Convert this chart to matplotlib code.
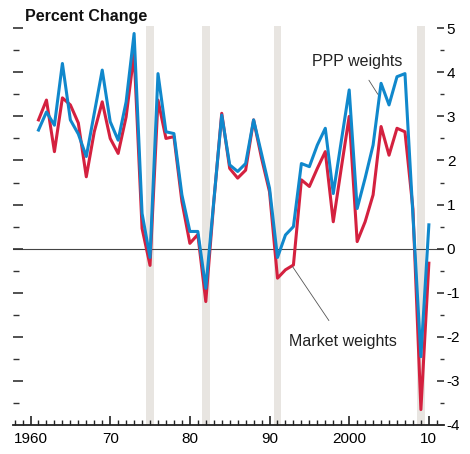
import numpy as np
import matplotlib
matplotlib.use("Agg")
import matplotlib.pyplot as plt

plt.rcParams['font.family'] = ['Liberation Sans', 'DejaVu Sans']

years = list(range(1961, 2011))

# world growth, PPP weights (blue)
ppp = [2.69, 3.10, 2.80, 4.20, 2.92, 2.60, 2.09, 3.07, 4.05, 2.88,
       2.46, 3.33, 4.88, 0.80, -0.20, 3.97, 2.65, 2.61, 1.22, 0.39,
       0.39, -0.90, 1.07, 3.03, 1.90, 1.75, 1.93, 2.92, 2.15, 1.37,
       -0.20, 0.31, 0.50, 1.93, 1.86, 2.35, 2.73, 1.25, 2.43, 3.60,
       0.91, 1.60, 2.35, 3.75, 3.26, 3.90, 3.97, 0.75, -2.45, 0.54]

# world growth, market weights (red)
market = [2.92, 3.37, 2.20, 3.42, 3.26, 2.85, 1.63, 2.65, 3.33, 2.50,
          2.16, 2.99, 4.43, 0.46, -0.38, 3.37, 2.50, 2.54, 1.07, 0.12,
          0.32, -1.20, 1.05, 3.07, 1.82, 1.60, 1.78, 2.92, 2.05, 1.29,
          -0.67, -0.48, -0.37, 1.56, 1.41, 1.82, 2.20, 0.61, 1.82, 3.00,
          0.16, 0.61, 1.22, 2.77, 2.12, 2.73, 2.65, 0.90, -3.65, -0.33]

recessions = [(1974.5, 1975.5), (1981.5, 1982.5), (1990.5, 1991.5), (2008.5, 2009.5)]

blue = '#1088cc'
red = '#d4213f'

fig = plt.figure(figsize=(4.7, 4.54), dpi=100)
ax = fig.add_axes([13/470, 29/454, 431/470, 399/454])
ax.set_xlim(1957.8, 2011.9)
ax.set_ylim(-4, 5.05)

for a, b in recessions:
    ax.axvspan(a, b, color='#e8e5e1', lw=0, zorder=0)

ax.axhline(0, color='#444444', lw=0.8, zorder=1)
ax.plot(years, market, color=red, lw=2.2, zorder=3)
ax.plot(years, ppp, color=blue, lw=2.2, zorder=4)

# spines
for s in ['left', 'right', 'top']:
    ax.spines[s].set_visible(False)
ax.spines['bottom'].set_color('#222222')
ax.spines['bottom'].set_linewidth(1.3)

# x ticks
ax.set_xticks([1960, 1970, 1980, 1990, 2000, 2010])
ax.set_xticklabels(['1960', '70', '80', '90', '2000', '10'])
ax.set_xticks(np.arange(1958, 2012), minor=True)
ax.tick_params(axis='x', which='major', direction='in', length=6.5, width=1.2,
               color='#222222', labelsize=11, pad=5)
ax.tick_params(axis='x', which='minor', direction='in', length=3.8, width=1.0,
               color='#222222')

# left ticks, no labels
ax.set_yticks(np.arange(-3, 6, 1))
ax.set_yticks(np.arange(-3.5, 5, 1), minor=True)
ax.tick_params(axis='y', which='major', direction='in', length=7.5, width=1.2,
               color='#333333', labelleft=False)
ax.tick_params(axis='y', which='minor', direction='in', length=4.0, width=1.0,
               color='#333333')

# right ticks with labels
ax2 = ax.twinx()
ax2.set_ylim(ax.get_ylim())
for s in ['left', 'right', 'top', 'bottom']:
    ax2.spines[s].set_visible(False)
ax2.set_yticks(np.arange(-4, 6, 1))
ax2.set_yticklabels([str(v) for v in range(-4, 6)])
ax2.set_yticks(np.arange(-3.5, 5, 1), minor=True)
ax2.tick_params(axis='y', which='major', direction='in', length=5, width=1.2,
                color='#333333', labelsize=11, pad=2)
ax2.tick_params(axis='y', which='minor', direction='in', length=3, width=1.0,
                color='#333333')

# labels with leader lines
ax.annotate('PPP weights', xy=(2003.6, 3.5), xytext=(2001.0, 4.24),
            fontsize=11.5, ha='center', va='center', color='#222222',
            arrowprops=dict(arrowstyle='-', color='#555555', lw=0.6,
                            shrinkA=7, shrinkB=0))
ax.annotate('Market weights', xy=(1992.9, -0.41), xytext=(1999.2, -2.1),
            fontsize=11.5, ha='center', va='center', color='#222222',
            arrowprops=dict(arrowstyle='-', color='#555555', lw=0.6,
                            shrinkA=9, shrinkB=0))

fig.text(25/470, 1 - 17/454, 'Percent Change', fontsize=11.5, fontweight='bold',
         va='center', ha='left', color='#111111')

fig.savefig('out.png', dpi=100)
